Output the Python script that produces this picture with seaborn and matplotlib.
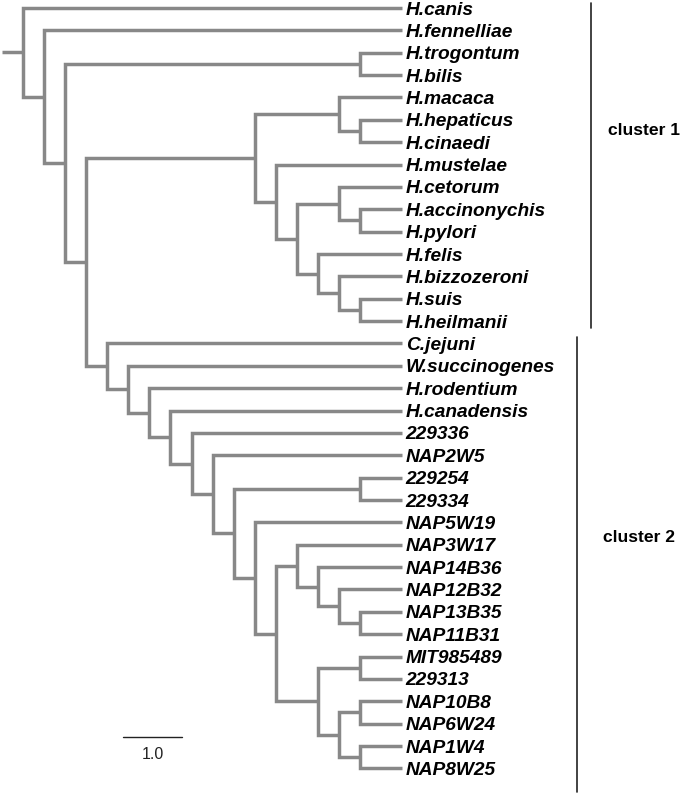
import matplotlib
matplotlib.use('Agg')
import matplotlib.pyplot as plt
import seaborn as sns
import pandas as pd

# tree topology (newick), split in the two clusters
OUTER_NEWICK = "(H.canis,(H.fennelliae,((H.trogontum,H.bilis),({c1},{c2}))))"
CLUSTER1_NEWICK = ("((H.macaca,(H.hepaticus,H.cinaedi)),(H.mustelae,((H.cetorum,(H.accinonychis,H.pylori)),"
                   "(H.felis,(H.bizzozeroni,(H.suis,H.heilmanii))))))")
CLUSTER2_NEWICK = ("(C.jejuni,(W.succinogenes,(H.rodentium,(H.canadensis,(229336,(NAP2W5,((229254,229334),"
                   "(NAP5W19,((NAP3W17,(NAP14B36,(NAP12B32,(NAP13B35,NAP11B31)))),"
                   "((MIT985489,229313),((NAP10B8,NAP6W24),(NAP1W4,NAP8W25))))))))))))")

STEP = 0.357          # length of one branch step in tree units
SCALE_LEN = 1.0       # scale bar length
cluster_names = ['cluster 1', 'cluster 2']
cluster_first_leaf = ['H.canis', 'C.jejuni']
cluster_last_leaf = ['H.heilmanii', 'NAP8W25']


def parse_newick(s):
    pos = 0

    def node():
        nonlocal pos
        if s[pos] == '(':
            pos += 1
            kids = [node()]
            while s[pos] == ',':
                pos += 1
                kids.append(node())
            pos += 1
            return kids
        start = pos
        while pos < len(s) and s[pos] not in ',()':
            pos += 1
        return s[start:pos]

    return node()


tree = parse_newick(OUTER_NEWICK.format(c1=CLUSTER1_NEWICK, c2=CLUSTER2_NEWICK))

leaves = []


def height(n):
    if isinstance(n, str):
        return 0
    return 1 + max(height(k) for k in n)


root_h = height(tree)
leaf_x = (root_h + 1) * STEP
segments = []


def layout(n):
    # returns (x, y) of the node and collects branch segments
    if isinstance(n, str):
        leaves.append(n)
        return leaf_x, len(leaves) - 1
    pts = [layout(k) for k in n]
    nx = (root_h - height(n)) * STEP
    ys = [p[1] for p in pts]
    seg = [(pts[0][0], ys[0]), (nx, ys[0]), (nx, ys[-1]), (pts[-1][0], ys[-1])]
    segments.append(seg)
    for p in pts[1:-1]:
        segments.append([(nx, p[1]), (p[0], p[1])])
    return nx, (ys[0] + ys[-1]) / 2


rx, ry = layout(tree)
segments.append([(rx - STEP, ry), (rx, ry)])

rows = []
for i, seg in enumerate(segments):
    for j, (x, y) in enumerate(seg):
        rows.append({'seg': i, 'order': j, 'x': x, 'y': y})
df = pd.DataFrame(rows)

sns.set_theme(style='white')
plt.rcParams['font.family'] = ['Liberation Sans', 'DejaVu Sans']

fig = plt.figure(figsize=(6.8, 7.93), dpi=100)
ax = fig.add_axes([0, 0, 1, 1])
sns.lineplot(data=df, x='x', y='y', units='seg', estimator=None, sort=False,
             color='#888888', lw=2.5, solid_joinstyle='miter', solid_capstyle='butt',
             legend=False, ax=ax)

for i, name in enumerate(leaves):
    ax.text(leaf_x + 0.06, i, name, ha='left', va='center_baseline',
            fontsize=13.8, fontweight='bold', fontstyle='italic', color='black')

# cluster brackets
bracket_x = [9.63, 9.39]
pad_top = [0.22, 0.29]
pad_bottom = [0.31, 1.06]
label_x = [9.92, 9.83]
label_y = [5.46, 23.66]
for k in range(2):
    y0 = leaves.index(cluster_first_leaf[k]) - pad_top[k]
    y1 = leaves.index(cluster_last_leaf[k]) + pad_bottom[k]
    ax.plot([bracket_x[k], bracket_x[k]], [y0, y1], color='#222222', lw=1.2)
    ax.text(label_x[k], label_y[k], cluster_names[k], ha='left', va='center',
            fontsize=12.6, fontweight='bold', color='black')

# scale bar
sb_x, sb_y = 1.695, 32.6
ax.plot([sb_x, sb_x + SCALE_LEN], [sb_y, sb_y], color='#222222', lw=1.0)
ax.text(sb_x + SCALE_LEN / 2, sb_y + 0.78, f'{SCALE_LEN:.1f}', ha='center', va='center',
        fontsize=11.5, color='#222222')

ax.set_xlim(-0.39, 11.136)
ax.set_ylim(35.1, -0.358)
ax.axis('off')

fig.savefig('out.png', dpi=100, facecolor='white')
